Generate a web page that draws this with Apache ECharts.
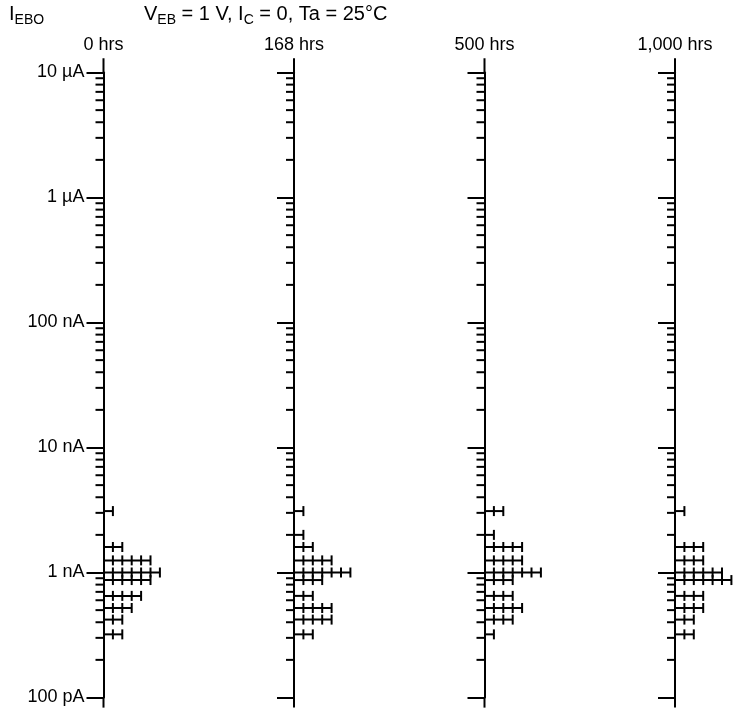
<!DOCTYPE html>
<html>
<head>
<meta charset="utf-8">
<script src="https://cdn.jsdelivr.net/npm/echarts@6/dist/echarts.min.js"></script>
<style>
  html, body { margin: 0; padding: 0; background: #fff; }
  #chart { width: 733px; height: 713px; }
</style>
</head>
<body>
<div id="chart"></div>
<script>
// Stress-test read points
const panelLabels = ['0 hrs', '168 hrs', '500 hrs', '1,000 hrs'];
// Leakage-current bins (A), top to bottom
const binCurrents = [3.1e-9, 2.0e-9, 1.6e-9, 1.25e-9, 1.0e-9, 0.87e-9, 0.65e-9, 0.52e-9, 0.42e-9, 0.32e-9];
// Number of devices in each bin, per read point
const counts0 = [1, 0, 2, 5, 6, 5, 4, 3, 2, 2];
const counts168 = [1, 1, 2, 4, 6, 3, 2, 4, 4, 2];
const counts500 = [2, 1, 4, 4, 6, 3, 3, 4, 3, 1];
const counts1000 = [1, 0, 3, 3, 5, 6, 3, 3, 2, 2];
// Decade labels on the current axis
const decadeValues = [1e-10, 1e-9, 1e-8, 1e-7, 1e-6, 1e-5];
const decadeLabels = ['100 pA', '1 nA', '10 nA', '100 nA', '1 \u00b5A', '10 \u00b5A'];
// Sub-decade multipliers for the short ticks
const minorMultipliers = [2, 3, 4, 5, 6, 7, 8, 9];
// Spine runs a little past the labelled decades
const spineSpan = [8.3e-11, 1.3e-5];

const allCounts = [counts0, counts168, counts500, counts1000];
const FONT = "'Liberation Sans', Arial, Helvetica, sans-serif";
const axisX = [103.5, 294, 484.5, 675];
const plotTop = 72.5, plotHeight = 625, unitWidth = 9.4, maxCount = 6;

const minorValues = [];
for (let e = -10; e <= -6; e++) {
  minorMultipliers.forEach(k => minorValues.push([0, k * Math.pow(10, e)]));
}

function labelFor(v) {
  const idx = decadeValues.findIndex(d => Math.abs(Math.log10(d) - Math.log10(v)) < 0.01);
  return idx >= 0 ? decadeLabels[idx] : '';
}

const grids = [], xAxes = [], yAxes = [], series = [];
allCounts.forEach((counts, i) => {
  grids.push({ left: axisX[i], top: plotTop, width: unitWidth * maxCount, height: plotHeight, containLabel: false });
  xAxes.push({ type: 'value', gridIndex: i, min: 0, max: maxCount, show: false });
  yAxes.push({
    type: 'log', gridIndex: i, logBase: 10, min: 1e-10, max: 1e-5,
    name: panelLabels[i], nameLocation: 'end', nameGap: 18,
    nameTextStyle: { color: '#000', fontSize: 18, fontFamily: FONT, align: 'center' },
    axisLine: { show: true, onZero: false, lineStyle: { color: '#000', width: 2 } },
    axisTick: { show: true, inside: false, length: 17, lineStyle: { color: '#000', width: 2 } },
    axisLabel: { show: i === 0, margin: 19, color: '#000', fontSize: 18, fontFamily: FONT, formatter: labelFor },
    splitLine: { show: false }
  });
  // short sub-decade ticks and the spine overrun
  series.push({
    type: 'custom', xAxisIndex: i, yAxisIndex: i, silent: true, clip: false,
    data: minorValues,
    renderItem: function (params, api) {
      const p = api.coord([0, api.value(1)]);
      const children = [{
        type: 'line', shape: { x1: p[0] - 8, y1: p[1], x2: p[0], y2: p[1] },
        style: { stroke: '#000', lineWidth: 2 }
      }];
      if (params.dataIndex === 0) {
        const a = api.coord([0, spineSpan[0]]), b = api.coord([0, spineSpan[1]]);
        const lo = api.coord([0, 1e-10]), hi = api.coord([0, 1e-5]);
        children.push({ type: 'line', shape: { x1: a[0], y1: a[1], x2: lo[0], y2: lo[1] }, style: { stroke: '#000', lineWidth: 2 } });
        children.push({ type: 'line', shape: { x1: b[0], y1: b[1], x2: hi[0], y2: hi[1] }, style: { stroke: '#000', lineWidth: 2 } });
      }
      return { type: 'group', children: children };
    }
  });
  // tally bars: one notch per device
  series.push({
    type: 'custom', xAxisIndex: i, yAxisIndex: i, silent: true, clip: false,
    data: counts.map((c, j) => [c, binCurrents[j]]),
    renderItem: function (params, api) {
      const n = api.value(0), v = api.value(1);
      if (!n) return null;
      const p0 = api.coord([0, v]), p1 = api.coord([n, v]);
      const children = [{
        type: 'line', shape: { x1: p0[0], y1: p0[1], x2: p1[0], y2: p1[1] },
        style: { stroke: '#000', lineWidth: 2 }
      }];
      for (let k = 1; k <= n; k++) {
        const q = api.coord([k, v]);
        children.push({
          type: 'line', shape: { x1: q[0], y1: q[1] - 5, x2: q[0], y2: q[1] + 5 },
          style: { stroke: '#000', lineWidth: 2 }
        });
      }
      return { type: 'group', children: children };
    }
  });
});

const mainStyle = { fontSize: 20, lineHeight: 25, fontWeight: 'normal', fontFamily: FONT, color: '#000', verticalAlign: 'middle' };
const subStyle = { fontSize: 14, lineHeight: 14, fontWeight: 'normal', fontFamily: FONT, color: '#000', verticalAlign: 'bottom' };

const chart = echarts.init(document.getElementById('chart'), null, { renderer: 'canvas' });
chart.setOption({
  animation: false,
  backgroundColor: '#fff',
  title: [
    { text: '{m|I}{s|EBO}', left: 9, top: 2, padding: 0, textStyle: { fontWeight: 'normal', rich: { m: mainStyle, s: subStyle } } },
    { text: '{m|V}{s|EB}{m| = 1 V, I}{s|C}{m| = 0, Ta = 25\u00b0C}', left: 144, top: 2, padding: 0, textStyle: { fontWeight: 'normal', rich: { m: mainStyle, s: subStyle } } }
  ],
  grid: grids,
  xAxis: xAxes,
  yAxis: yAxes,
  series: series
});
</script>
</body>
</html>
